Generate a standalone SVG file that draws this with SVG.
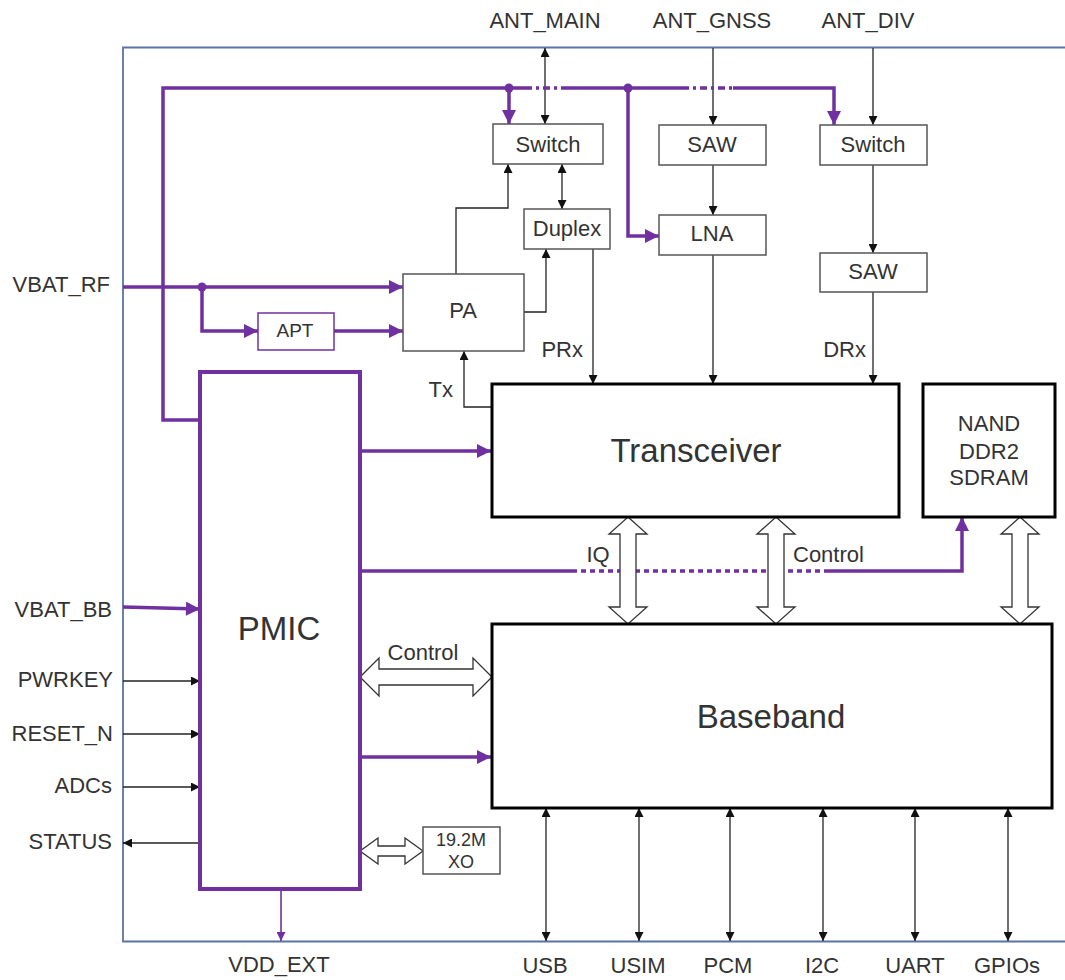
<svg xmlns="http://www.w3.org/2000/svg" width="1065" height="980" viewBox="0 0 1065 980">
<style>
text{font-family:"Liberation Sans",Arial,sans-serif;fill:#333}
.lbl{font-size:22px}
.box{fill:#fff;stroke:#555;stroke-width:1.5}
.big{fill:#fff;stroke:#000;stroke-width:3}
.bt{font-size:22px;text-anchor:middle}
.blk{fill:none;stroke:#222;stroke-width:1.3}
.pur{fill:none;stroke:#7030a0;stroke-width:3.5}
.hollow{fill:#fff;stroke:#333;stroke-width:1.3}
</style>
<defs>
<marker id="ab" viewBox="0 0 10 10" refX="10" refY="5" markerWidth="9" markerHeight="9" markerUnits="userSpaceOnUse" orient="auto-start-reverse"><path d="M0,0 L10,5 L0,10 z" fill="#111"/></marker>
<marker id="ap" viewBox="0 0 10 10" refX="10" refY="5" markerWidth="16" markerHeight="14" markerUnits="userSpaceOnUse" orient="auto"><path d="M0,0 L10,5 L0,10 z" fill="#7030a0"/></marker>
<marker id="aps" viewBox="0 0 10 10" refX="10" refY="5" markerWidth="10" markerHeight="9" markerUnits="userSpaceOnUse" orient="auto"><path d="M0,0 L10,5 L0,10 z" fill="#7030a0"/></marker>
</defs>

<g id="frame">
<path d="M1065,47.5 H123 V941.5 H1065" fill="none" stroke="#5a73a6" stroke-width="1.8"/>
</g>

<g id="labels">
<text class="lbl" x="545" y="28" text-anchor="middle">ANT_MAIN</text>
<text class="lbl" x="712" y="28" text-anchor="middle">ANT_GNSS</text>
<text class="lbl" x="868" y="28" text-anchor="middle">ANT_DIV</text>
<text class="lbl" x="110" y="292" text-anchor="end">VBAT_RF</text>
<text class="lbl" x="112" y="617" text-anchor="end">VBAT_BB</text>
<text class="lbl" x="113" y="687" text-anchor="end">PWRKEY</text>
<text class="lbl" x="113" y="741" text-anchor="end">RESET_N</text>
<text class="lbl" x="112" y="793" text-anchor="end">ADCs</text>
<text class="lbl" x="112" y="849" text-anchor="end">STATUS</text>
<text class="lbl" x="279" y="972" text-anchor="middle">VDD_EXT</text>
<text class="lbl" x="545" y="973" text-anchor="middle">USB</text>
<text class="lbl" x="638" y="973" text-anchor="middle">USIM</text>
<text class="lbl" x="728" y="973" text-anchor="middle">PCM</text>
<text class="lbl" x="822" y="973" text-anchor="middle">I2C</text>
<text class="lbl" x="915" y="973" text-anchor="middle">UART</text>
<text class="lbl" x="1007" y="973" text-anchor="middle">GPIOs</text>
<text class="lbl" x="583" y="357" text-anchor="end">PRx</text>
<text class="lbl" x="866" y="357" text-anchor="end">DRx</text>
<text class="lbl" x="453" y="397" text-anchor="end">Tx</text>
<text class="lbl" x="598" y="562" text-anchor="middle">IQ</text>
<text class="lbl" x="793" y="562">Control</text>
<text class="lbl" x="423" y="660" text-anchor="middle">Control</text>
</g>

<g id="connectors">
<line class="blk" x1="545" y1="48" x2="545" y2="124" marker-start="url(#ab)" marker-end="url(#ab)"/>
<line class="blk" x1="713" y1="48" x2="713" y2="125" marker-end="url(#ab)"/>
<line class="blk" x1="873" y1="48" x2="873" y2="125" marker-end="url(#ab)"/>
<line class="blk" x1="713" y1="165" x2="713" y2="215" marker-end="url(#ab)"/>
<line class="blk" x1="873" y1="165" x2="873" y2="253" marker-end="url(#ab)"/>
<line class="blk" x1="873" y1="292" x2="873" y2="384" marker-end="url(#ab)"/>
<line class="blk" x1="713" y1="255" x2="713" y2="384" marker-end="url(#ab)"/>
<line class="blk" x1="593" y1="249" x2="593" y2="384" marker-end="url(#ab)"/>
<line class="blk" x1="562" y1="164" x2="562" y2="209" marker-start="url(#ab)" marker-end="url(#ab)"/>
<polyline class="blk" points="456,274 456,208 508,208 508,164" marker-end="url(#ab)"/>
<polyline class="blk" points="524,312 546,312 546,249" marker-end="url(#ab)"/>
<polyline class="blk" points="492,407 464,407 464,351" marker-end="url(#ab)"/>
<line class="blk" x1="123" y1="681" x2="200" y2="681" marker-end="url(#ab)"/>
<line class="blk" x1="123" y1="734" x2="200" y2="734" marker-end="url(#ab)"/>
<line class="blk" x1="123" y1="787" x2="200" y2="787" stroke="#555" marker-end="url(#ab)"/>
<line class="blk" x1="200" y1="843" x2="123" y2="843" marker-end="url(#ab)"/>
<line class="blk" x1="546" y1="808" x2="546" y2="941" marker-start="url(#ab)" marker-end="url(#ab)"/>
<line class="blk" x1="639" y1="808" x2="639" y2="941" marker-start="url(#ab)" marker-end="url(#ab)"/>
<line class="blk" x1="730" y1="808" x2="730" y2="941" marker-start="url(#ab)" marker-end="url(#ab)"/>
<line class="blk" x1="823" y1="808" x2="823" y2="941" marker-start="url(#ab)" marker-end="url(#ab)"/>
<line class="blk" x1="915" y1="808" x2="915" y2="941" marker-start="url(#ab)" marker-end="url(#ab)"/>
<line class="blk" x1="1008" y1="808" x2="1008" y2="941" marker-start="url(#ab)" marker-end="url(#ab)"/>

<polyline class="pur" points="200,420 163,420 163,88 525,88"/>
<line class="pur" x1="525" y1="88" x2="563" y2="88" stroke-dasharray="7 4 3 4"/>
<line class="pur" x1="563" y1="88" x2="682" y2="88"/>
<line class="pur" x1="682" y1="88" x2="733" y2="88" stroke-dasharray="7 4 3 4"/>
<polyline class="pur" points="733,88 834,88 834,125" marker-end="url(#ap)"/>
<line class="pur" x1="509" y1="88" x2="509" y2="124" marker-end="url(#ap)"/>
<polyline class="pur" points="628,88 628,236 659,236" marker-end="url(#ap)"/>
<circle cx="509" cy="88" r="4.5" fill="#7030a0"/>
<circle cx="628" cy="88" r="4.5" fill="#7030a0"/>
<line class="pur" x1="123" y1="287" x2="403" y2="287" marker-end="url(#ap)"/>
<polyline class="pur" points="202,287 202,331 258,331" marker-end="url(#ap)"/>
<line class="pur" x1="334" y1="331" x2="403" y2="331" marker-end="url(#ap)"/>
<circle cx="202" cy="287" r="4.5" fill="#7030a0"/>
<line class="pur" x1="360" y1="451" x2="491" y2="451" marker-end="url(#ap)"/>
<line class="pur" x1="123" y1="607" x2="200" y2="609" marker-end="url(#ap)"/>
<line class="pur" x1="360" y1="757" x2="491" y2="757" marker-end="url(#ap)"/>
<line class="pur" x1="360" y1="571" x2="572" y2="571"/>
<line class="pur" x1="572" y1="571" x2="824" y2="571" stroke-dasharray="5 4"/>
<polyline class="pur" points="824,571 962,571 962,517" marker-end="url(#ap)"/>
<line x1="281" y1="889" x2="281" y2="941" stroke="#7030a0" stroke-width="1.6" marker-end="url(#aps)"/>

<polygon class="hollow" points="360,677 379,658 379,669 473,669 473,658 492,677 473,696 473,685 379,685 379,696"/>
<polygon class="hollow" points="360,851 378,838 378,846 405,846 405,838 423,851 405,864 405,856 378,856 378,864"/>
<polygon class="hollow" points="628,517 647,534 636,534 636,607 647,607 628,624 609,607 620,607 620,534 609,534"/>
<polygon class="hollow" points="776,517 795,534 784,534 784,607 795,607 776,624 757,607 768,607 768,534 757,534"/>
<polygon class="hollow" points="1020,517 1039,534 1028,534 1028,607 1039,607 1020,624 1001,607 1012,607 1012,534 1001,534"/>
</g>

<g id="switch-main"><rect class="box" x="493" y="124" width="110" height="40"/><text class="bt" x="548" y="151.5">Switch</text></g>
<g id="saw-gnss"><rect class="box" x="659" y="125" width="107" height="40"/><text class="bt" x="712" y="151.5">SAW</text></g>
<g id="switch-div"><rect class="box" x="820" y="125" width="107" height="40"/><text class="bt" x="873" y="151.5">Switch</text></g>
<g id="duplex"><rect class="box" x="524" y="209" width="86" height="40"/><text class="bt" x="567" y="236">Duplex</text></g>
<g id="lna"><rect class="box" x="659" y="215" width="107" height="40"/><text class="bt" x="712" y="241">LNA</text></g>
<g id="saw-div"><rect class="box" x="820" y="253" width="107" height="39"/><text class="bt" x="873" y="279">SAW</text></g>
<g id="pa"><rect class="box" x="403" y="274" width="121" height="77"/><text class="bt" x="463" y="318">PA</text></g>
<g id="apt"><rect x="258" y="313" width="76" height="37" fill="#fff" stroke="#7030a0" stroke-width="1.5"/><text x="295" y="337" text-anchor="middle" font-size="19">APT</text></g>
<g id="pmic"><rect x="200" y="372" width="160" height="517" fill="#fff" stroke="#7030a0" stroke-width="4"/><text x="279" y="640" text-anchor="middle" font-size="33" fill="#111">PMIC</text></g>
<g id="transceiver"><rect class="big" x="492" y="384" width="407" height="133"/><text x="696" y="462" text-anchor="middle" font-size="33" fill="#111">Transceiver</text></g>
<g id="memory"><rect class="big" x="923" y="384" width="132" height="133"/><text x="989" y="431" text-anchor="middle" font-size="22">NAND</text><text x="989" y="459" text-anchor="middle" font-size="22">DDR2</text><text x="989" y="485" text-anchor="middle" font-size="22">SDRAM</text></g>
<g id="baseband"><rect class="big" x="492" y="624" width="560" height="184"/><text x="771" y="728" text-anchor="middle" font-size="33" fill="#111">Baseband</text></g>
<g id="xo"><rect class="box" x="423" y="827" width="77" height="47"/><text x="461" y="846" text-anchor="middle" font-size="18">19.2M</text><text x="461" y="868" text-anchor="middle" font-size="18">XO</text></g>
</svg>
